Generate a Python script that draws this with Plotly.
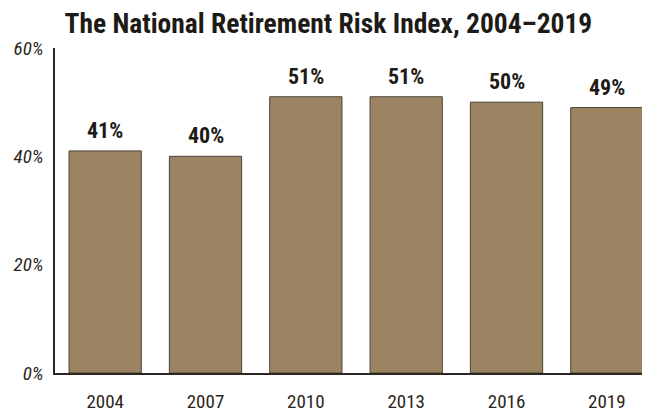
import plotly.graph_objects as go

years = ["2004", "2007", "2010", "2013", "2016", "2019"]
risk_pct = [41, 40, 51, 51, 50, 49]
y_ticks = [0, 20, 40, 60]
y_tick_text = ["0%", "20%", "40%", "60%"]

narrow = "Roboto Condensed, Liberation Sans Narrow, sans-serif"
ink = "#1e1b16"

fig = go.Figure()
fig.add_trace(go.Bar(
    x=years, y=risk_pct,
    marker=dict(color="#9c8462", line=dict(color="#4a4238", width=1)),
    width=0.72,
    showlegend=False,
))

# value labels sit a little higher above the bars than plotly's outside text
for i, v in enumerate(risk_pct):
    fig.add_annotation(x=i, y=v, xref="x", yref="y", text=f"<b>{v}%</b>",
                       showarrow=False, yanchor="bottom", yshift=6,
                       font=dict(family=narrow, size=22, color=ink))

# page body adds an 8px offset, so the figure is sized 8px smaller
fig.update_layout(
    width=642, height=404,
    margin=dict(l=47, r=0, t=40, b=39),
    paper_bgcolor="white", plot_bgcolor="white",
    title=dict(text="<b>The National Retirement Risk Index, 2004–2019</b>",
               x=0.499, xref="container", xanchor="center",
               y=0.962, yanchor="middle",
               font=dict(family=narrow, size=27.5, color=ink)),
    bargap=0.28,
)
fig.update_xaxes(type="category", range=[-0.5, 5.43], showline=True,
                 linecolor="#2b2620", linewidth=1.5,
                 ticks="", ticklabelstandoff=10,
                 tickfont=dict(family=narrow, size=19, color="#2b2620"),
                 showgrid=False)
fig.update_yaxes(range=[0, 60], tickvals=y_ticks, ticktext=[f"<i>{t}</i>" for t in y_tick_text],
                 showline=True, linecolor="#2b2620", linewidth=1.5, ticks="",
                 ticklabelstandoff=6, showgrid=False, zeroline=False,
                 tickfont=dict(family=narrow, size=19, color="#2b2620"))

fig.write_html("out.html")
